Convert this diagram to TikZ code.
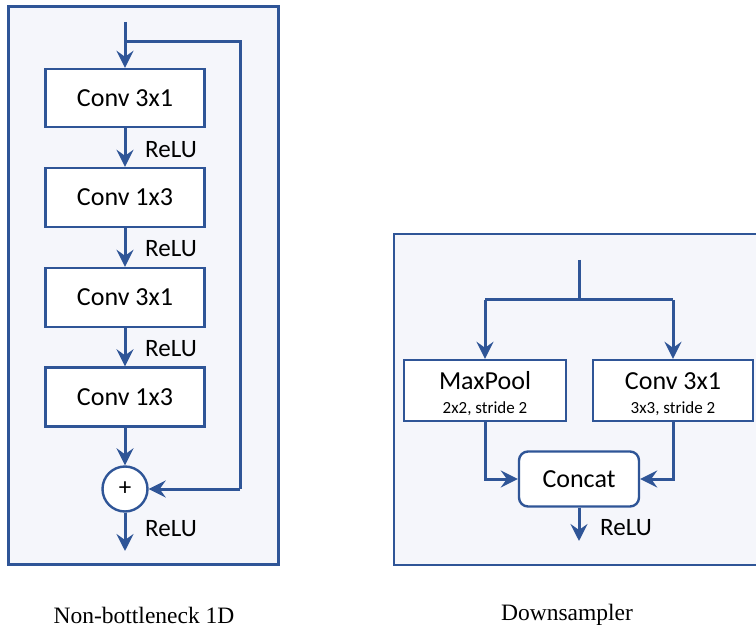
\documentclass[tikz,border=0pt]{standalone}
\usepackage{fontspec}
\setmainfont{Carlito}
\newfontfamily\capfont{Liberation Serif}
\usetikzlibrary{arrows.meta}
\definecolor{lblue}{HTML}{2F5597}
\definecolor{pfill}{HTML}{F5F6FB}
\begin{document}
\begin{tikzpicture}[x=1pt,y=-1pt,
  panel/.style={draw=lblue,line width=2.4pt,fill=pfill},
  blk/.style={draw=lblue,line width=2.4pt,fill=white,inner sep=0pt,font=\fontsize{26}{30}\selectfont},
  conn/.style={draw=lblue,line width=3pt,line join=miter,-{Stealth[length=17pt,width=17pt,inset=6pt]}},
  wire/.style={draw=lblue,line width=3pt,line join=miter},
  lbl/.style={font=\fontsize{25}{30}\selectfont,anchor=west,inner sep=0pt},
  captxt/.style={font=\capfont\fontsize{23.5}{28}\selectfont,inner sep=0pt}]
\useasboundingbox (0,0) rectangle (756,631);
\clip (0,0) rectangle (756,631);
% panels
\node[panel,minimum width=270pt,minimum height=558pt,inner sep=0pt] (p1) at (143.5,285.5) {};
\node[panel,minimum width=380pt,minimum height=331pt,inner sep=0pt,anchor=north west] (p2) at (393,233) {};
% left column
\coordinate (in1) at (125,22);
\coordinate (br1) at (125,42);
\coordinate (rt1) at (240,42);
\node[blk,minimum width=159pt,minimum height=58pt] (c1) at (125,98) {Conv 3x1};
\node[blk,minimum width=159pt,minimum height=59pt] (c2) at (125,197.5) {Conv 1x3};
\node[blk,minimum width=159pt,minimum height=59pt] (c3) at (125,297.5) {Conv 3x1};
\node[blk,minimum width=159pt,minimum height=59pt] (c4) at (125,397) {Conv 1x3};
\node[blk,circle,minimum size=45pt,font=\fontsize{25}{28}\selectfont] (plus) at (125,489) {+};
\coordinate (rb1) at (240,489);
\coordinate (out1) at (125,551);
\draw[wire] (in1) -- (br1) -- (rt1) -- (rb1);
\draw[conn] (br1) -- (c1.north);
\draw[conn] (c1) -- (c2);
\draw[conn] (c2) -- (c3);
\draw[conn] (c3) -- (c4);
\draw[conn] (c4) -- (plus);
\draw[conn] (rb1) -- (plus.east);
\draw[conn] (plus) -- (out1);
\node[lbl] (r1) at (145,150) {ReLU};
\node[lbl] (r2) at (145,249) {ReLU};
\node[lbl] (r3) at (145,349) {ReLU};
\node[lbl] (r4) at (145,529) {ReLU};
% right panel
\coordinate (in2) at (579,260);
\coordinate (br2) at (579,300);
\coordinate (bl2) at (485,300);
\coordinate (brr2) at (673,300);
\node[blk,minimum width=162pt,minimum height=61pt] (mp) at (485,390.5) {};
\node[font=\fontsize{26}{30}\selectfont,inner sep=0pt] (mpt) at (485,381) {MaxPool};
\node[font=\fontsize{17}{20}\selectfont,inner sep=0pt] (mps) at (485,409) {2x2, stride 2};
\node[blk,minimum width=160pt,minimum height=61pt] (cv) at (673,390.5) {};
\node[font=\fontsize{26}{30}\selectfont,inner sep=0pt] (cvt) at (673,381) {Conv 3x1};
\node[font=\fontsize{17}{20}\selectfont,inner sep=0pt] (cvs) at (673,409) {3x3, stride 2};
\node[blk,rounded corners=9pt,minimum width=120pt,minimum height=55pt] (cc) at (579,479) {Concat};
\coordinate (ml) at (485,479);
\coordinate (mr) at (673,479);
\coordinate (out2) at (579,541);
\draw[wire] (in2) -- (br2);
\draw[wire] (bl2) -- (brr2);
\draw[conn] (bl2) -- (mp.north);
\draw[conn] (brr2) -- (cv.north);
\draw[conn] (mp.south) -- (ml) -- (cc.west);
\draw[conn] (cv.south) -- (mr) -- (cc.east);
\draw[conn] (cc) -- (out2);
\node[lbl] (r5) at (600,528) {ReLU};
% captions
\node[captxt] (t1) at (144,615) {Non-bottleneck 1D};
\node[captxt] (t2) at (567,615) {Downsampler};
\end{tikzpicture}
\end{document}
